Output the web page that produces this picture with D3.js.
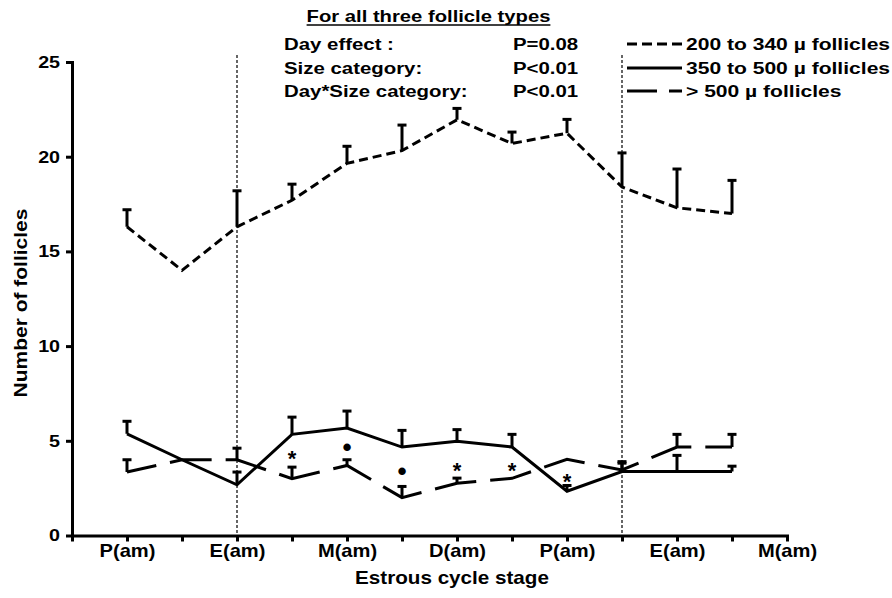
<!DOCTYPE html>
<html>
<head>
<meta charset="utf-8">
<script src="https://cdn.jsdelivr.net/npm/d3@7/dist/d3.min.js"></script>
<style>
  html, body { margin: 0; padding: 0; background: #fff; }
  svg text { font-family: "Liberation Sans", Arial, sans-serif; font-weight: bold; fill: #000; }
</style>
</head>
<body>
<svg id="chart" width="892" height="598"></svg>
<script>
// ---------------- data ----------------
const tickLabels = ["", "P(am)", "", "E(am)", "", "M(am)", "", "D(am)", "", "P(am)", "", "E(am)", "", "M(am)"];
const xPositions = [1, 2, 3, 4, 5, 6, 7, 8, 9, 10, 11, 12];
const yTicks = [0, 5, 10, 15, 20, 25];
const refLines = [3, 10];

const seriesNames = ["200 to 340 \u00b5 follicles", "350 to 500 \u00b5 follicles", "> 500 \u00b5 follicles"];
const small_mean  = [16.3, 14.0, 16.3, 17.7, 19.65, 20.32, 21.95, 20.7, 21.24, 18.4, 17.3, 17.0];
const small_sem   = [0.9, 0, 1.9, 0.85, 0.9, 1.35, 0.6, 0.6, 0.73, 1.8, 2.05, 1.75];
const medium_mean = [5.37, 4.0, 2.68, 5.34, 5.67, 4.67, 4.98, 4.67, 2.34, 3.38, 3.38, 3.38];
const medium_sem  = [0.66, 0, 0.67, 0.91, 0.9, 0.88, 0.61, 0.67, 0.3, 0.44, 0.85, 0.28];
const large_mean  = [3.35, 4.0, 4.0, 3.0, 3.7, 2.0, 2.76, 3.02, 4.02, 3.46, 4.67, 4.67];
const large_sem   = [0.65, 0, 0.61, 0.61, 0.3, 0.59, 0.27, 0, 0, 0.44, 0.67, 0.67];

const markPos    = [4, 5, 6, 7, 8, 9];
const markVal    = [4.35, 4.69, 3.42, 3.72, 3.67, 3.09];
const markSymbol = ["*", "\u2022", "\u2022", "*", "*", "*"];

const headerTitle = "For all three follicle types";
const statLabels = ["Day effect :", "Size category:", "Day*Size category:"];
const statValues = ["P=0.08", "P<0.01", "P<0.01"];

// ---------------- layout ----------------
const svg = d3.select("#chart");
const x = d3.scaleLinear().domain([0, 13]).range([72, 787]);
const y = d3.scaleLinear().domain([0, 25]).range([535.5, 62]);
const SX = 1.2; // horizontal text stretch of the original

const series = [
  { mean: small_mean,  sem: small_sem,  dash: "9,5",   offset: 0,  legendDash: "10,5" },
  { mean: medium_mean, sem: medium_sem, dash: null,    offset: 0,  legendDash: null },
  { mean: large_mean,  sem: large_sem,  dash: "42,14", offset: 12, legendDash: "30,12" }
];

// reference dotted lines
svg.append("g").selectAll("line").data(refLines).join("line")
  .attr("x1", d => x(d)).attr("x2", d => x(d))
  .attr("y1", 55).attr("y2", y(0))
  .attr("stroke", "#000").attr("stroke-width", 1.2)
  .attr("stroke-dasharray", "3,2");

// axes
const yAxis = svg.append("g").attr("transform", `translate(${x(0)},0)`)
  .call(d3.axisLeft(y).tickValues(yTicks).tickSize(6).tickSizeOuter(0).tickFormat(d3.format("d")));
const xAxis = svg.append("g").attr("transform", `translate(0,${y(0)})`)
  .call(d3.axisBottom(x).tickValues(d3.range(0, 14)).tickSize(6).tickSizeOuter(0).tickFormat(i => tickLabels[i]));

[yAxis, xAxis].forEach(g => {
  g.select(".domain").attr("stroke-width", 3).attr("stroke-linecap", "square");
  g.selectAll(".tick line").attr("stroke-width", 3);
  g.selectAll("text").attr("font-size", 17).attr("font-family", null);
});
yAxis.selectAll(".tick text").attr("x", -10.3).attr("transform", "scale(1.16,1)");
xAxis.selectAll(".tick text").attr("y", 9.5).attr("font-size", 17.5).attr("transform", "scale(1.15,1)");

// series lines
const line = d3.line().x((d, i) => x(xPositions[i])).y(d => y(d));
series.forEach(s => {
  svg.append("path").datum(s.mean)
    .attr("d", line)
    .attr("fill", "none").attr("stroke", "#000").attr("stroke-width", 3)
    .attr("stroke-linejoin", "miter")
    .attr("stroke-dasharray", s.dash)
    .attr("stroke-dashoffset", s.offset);
  const eb = svg.append("g");
  const pts = s.mean.map((m, i) => ({ xp: xPositions[i], m, e: s.sem[i] })).filter(d => d.e > 0);
  eb.selectAll("line.v").data(pts).join("line").attr("class", "v")
    .attr("x1", d => x(d.xp)).attr("x2", d => x(d.xp))
    .attr("y1", d => y(d.m)).attr("y2", d => y(d.m + d.e))
    .attr("stroke", "#000").attr("stroke-width", 3);
  eb.selectAll("line.c").data(pts).join("line").attr("class", "c")
    .attr("x1", d => x(d.xp) - 4.5).attr("x2", d => x(d.xp) + 4.5)
    .attr("y1", d => y(d.m + d.e)).attr("y2", d => y(d.m + d.e))
    .attr("stroke", "#000").attr("stroke-width", 3);
});

// significance marks
svg.append("g").selectAll("text").data(markSymbol).join("text")
  .attr("text-anchor", "middle")
  .attr("font-size", d => d === "*" ? 22 : 26)
  .attr("x", (d, i) => x(markPos[i]))
  .attr("y", (d, i) => y(markVal[i]) + (d === "*" ? 12.5 : 9))
  .text(d => d);

// axis titles
svg.append("text").attr("font-size", 17.5).attr("text-anchor", "middle")
  .attr("transform", `translate(452,584) scale(1.18,1)`).text("Estrous cycle stage");
svg.append("text").attr("font-size", 17.5).attr("text-anchor", "middle")
  .attr("transform", `translate(27,303) rotate(-90) scale(1.2,1)`).text("Number of follicles");

// header
const rows = [44, 68, 91];
const title = svg.append("text").attr("font-size", 17).attr("text-anchor", "middle")
  .attr("transform", `translate(428.5,22) scale(1.19,1)`).text(headerTitle);
const tw = title.node().getComputedTextLength() * 1.19;
svg.append("line").attr("x1", 428.5 - tw / 2).attr("x2", 428.5 + tw / 2)
  .attr("y1", 25).attr("y2", 25).attr("stroke", "#000").attr("stroke-width", 1.5);

svg.append("g").selectAll("text").data(statLabels).join("text")
  .attr("font-size", 17)
  .attr("transform", (d, i) => `translate(284,${rows[i] + 6}) scale(${SX},1)`).text(d => d);
svg.append("g").selectAll("text").data(statValues).join("text")
  .attr("font-size", 17)
  .attr("transform", (d, i) => `translate(513,${rows[i] + 6}) scale(${SX},1)`).text(d => d);

// legend
const lg = svg.append("g");
series.forEach((s, i) => {
  lg.append("line").attr("x1", 627).attr("x2", 682).attr("y1", rows[i]).attr("y2", rows[i])
    .attr("stroke", "#000").attr("stroke-width", 3).attr("stroke-dasharray", s.legendDash);
  lg.append("text").attr("font-size", 17)
    .attr("transform", `translate(686,${rows[i] + 6}) scale(1.24,1)`).text(seriesNames[i]);
});
</script>
</body>
</html>
